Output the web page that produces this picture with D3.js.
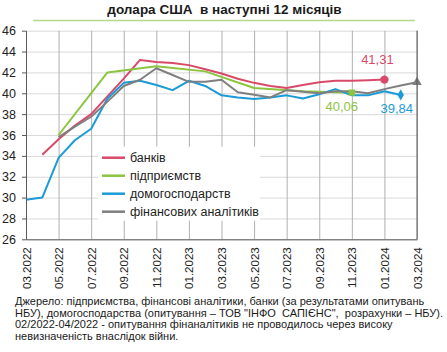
<!DOCTYPE html>
<html>
<head>
<meta charset="utf-8">
<script src="https://cdn.jsdelivr.net/npm/d3@7"></script>
<style>
  body { margin: 0; background: #fff; }
  svg { display: block; font-family: "Liberation Sans", Arial, sans-serif; }
  svg text { white-space: pre; }
</style>
</head>
<body>
<div id="chart"></div>
<script>
// months on the x axis, one per point
const months = ["03.2022","04.2022","05.2022","06.2022","07.2022","08.2022","09.2022","10.2022","11.2022","12.2022",
  "01.2023","02.2023","03.2023","04.2023","05.2023","06.2023","07.2023","08.2023","09.2023","10.2023","11.2023","12.2023",
  "01.2024","02.2024","03.2024"];

// expectations of the exchange rate, by group (null = no survey)
const banks = [null, 34.1, 35.6, 36.9, 38.0, 39.7, 41.4, 43.2, 43.0, 42.9, 42.7, 42.3, 41.9, 41.4, 41.0, 40.7, 40.5, 40.8, 41.05, 41.2, 41.2, 41.25, 41.31, null, null];
const enterprises = [null, null, 36.0, null, null, 42.0, null, null, 42.6, null, null, 42.1, null, null, 40.5, null, null, 40.2, null, null, 40.06, null, null, null, null];
const households = [29.8, 30.0, 33.8, 35.5, 36.6, 39.5, 41.0, 41.2, 40.8, 40.3, 41.2, 40.7, 39.8, 39.6, 39.45, 39.6, 39.8, 39.5, 39.9, 40.4, 39.8, 39.8, 40.2, 39.84, null];
const analysts = [null, null, 35.8, 36.8, 37.75, 39.2, 40.7, 41.3, 42.4, 41.75, 41.1, 41.1, 41.3, 40.1, 39.85, 39.6, 40.3, 40.15, 40.0, 40.2, 40.2, 40.0, 40.4, 40.75, 41.05];

const yTicks = [26, 28, 30, 32, 34, 36, 38, 40, 42, 44, 46];
const xTickLabels = ["03.2022","05.2022","07.2022","09.2022","11.2022","01.2023","03.2023","05.2023","07.2023","09.2023","11.2023","01.2024","03.2024"];

const series = [
  {name: "банків", values: banks, color: "#d94a6a", marker: "circle", label: "41,31"},
  {name: "підприємств", values: enterprises, color: "#8cc440", marker: "square", label: "40,06"},
  {name: "домогосподарств", values: households, color: "#1a9bd7", marker: "diamond", label: "39,84"},
  {name: "фінансових аналітиків", values: analysts, color: "#7f7f7f", marker: "triangle", label: null}
];

const W = 447, H = 352;
const margin = {top: 30.7, right: 30, bottom: 112.7, left: 26};
const width = W - margin.left - margin.right;
const height = H - margin.top - margin.bottom;

const svg = d3.select("#chart").append("svg")
  .attr("width", W).attr("height", H)
  .attr("viewBox", [0, 0, W, H]);

// title and the green rule beneath it
svg.append("text")
  .attr("x", 224.5).attr("y", 14)
  .attr("text-anchor", "middle")
  .attr("font-size", 13.5).attr("font-weight", "bold").attr("fill", "#1a1a1a")
  .text("долара США  в наступні 12 місяців");

svg.append("line")
  .attr("x1", 33).attr("x2", 415).attr("y1", 20.5).attr("y2", 20.5)
  .attr("stroke", "#b4d88c").attr("stroke-width", 1.5);

const chart = svg.append("g")
  .attr("transform", `translate(${margin.left}, ${margin.top})`);

const xScale = d3.scaleLinear()
  .domain([0, months.length - 1])
  .range([0, width]);

const yScale = d3.scaleLinear()
  .domain([26, 46])
  .range([height, 0]);

// horizontal grid
chart.append("g")
  .call(d3.axisRight(yScale).tickValues(yTicks).tickSize(width).tickFormat(""))
  .call(g => g.select(".domain").remove())
  .call(g => g.selectAll("line").attr("stroke", "#d9d9d9"));

// vertical grid at every second month
const xTickIdx = xTickLabels.map(m => months.indexOf(m));
chart.append("g")
  .attr("transform", `translate(0, ${height})`)
  .call(d3.axisBottom(xScale).tickValues(xTickIdx).tickSize(-height).tickFormat(""))
  .call(g => g.select(".domain").remove())
  .call(g => g.selectAll("line").attr("stroke", "#b0b0b0"));

// legend box background (hides grid behind it)
const legend = chart.append("g").attr("transform", "translate(72, 116)");
legend.append("rect")
  .attr("x", 0).attr("y", 0).attr("width", 162).attr("height", 74)
  .attr("fill", "#fff");

// lines
const line = d3.line()
  .x(d => xScale(d.i))
  .y(d => yScale(d.v));

series.forEach(s => {
  const pts = s.values.map((v, i) => ({i, v})).filter(d => d.v != null);
  s.pts = pts;
  chart.append("path")
    .datum(pts)
    .attr("d", line)
    .attr("fill", "none")
    .attr("stroke", s.color)
    .attr("stroke-width", 2)
    .attr("stroke-linejoin", "round");
});

// end markers and value labels
const symbols = {circle: d3.symbolCircle, square: d3.symbolSquare, diamond: d3.symbolDiamond, triangle: d3.symbolTriangle};
const symSize = {circle: 55, square: 40, diamond: 36, triangle: 40};
series.forEach(s => {
  const last = s.pts[s.pts.length - 1];
  chart.append("path")
    .attr("d", d3.symbol(symbols[s.marker], symSize[s.marker]))
    .attr("transform", `translate(${xScale(last.i)}, ${yScale(last.v)})`)
    .attr("fill", s.color);
});

const labelPos = [
  {s: 0, dx: -7, dy: -16},
  {s: 1, dx: -10, dy: 18},
  {s: 2, dx: -4, dy: 18}
];
labelPos.forEach(p => {
  const s = series[p.s];
  const last = s.pts[s.pts.length - 1];
  chart.append("text")
    .attr("x", xScale(last.i) + p.dx)
    .attr("y", yScale(last.v) + p.dy)
    .attr("text-anchor", "middle")
    .attr("font-size", 13)
    .attr("fill", s.color)
    .text(s.label);
});

// axes
chart.append("g")
  .call(d3.axisLeft(yScale).tickValues(yTicks).tickSize(4).tickPadding(6).tickSizeOuter(0))
  .call(g => g.select(".domain").attr("stroke", "#595959"))
  .call(g => g.selectAll("line").attr("stroke", "#595959"))
  .call(g => g.selectAll("text").attr("font-size", 12.5).attr("fill", "#222").attr("font-family", "Liberation Sans, Arial, sans-serif"));

chart.append("g")
  .attr("transform", `translate(0, ${height})`)
  .call(d3.axisBottom(xScale).tickValues(xTickIdx).tickSize(0).tickSizeOuter(0).tickFormat((d, i) => xTickLabels[i]))
  .call(g => g.select(".domain").attr("stroke", "#595959"))
  .call(g => g.selectAll("text")
    .attr("font-size", 11.5).attr("fill", "#222").attr("font-family", "Liberation Sans, Arial, sans-serif")
    .attr("transform", "rotate(-90)")
    .attr("text-anchor", "end")
    .attr("x", -8).attr("y", 0).attr("dy", "0.35em"));

// right border
chart.append("line")
  .attr("x1", width).attr("x2", width).attr("y1", 0).attr("y2", height)
  .attr("stroke", "#595959");

// legend entries
series.forEach((s, i) => {
  const y = 11 + i * 18;
  legend.append("line")
    .attr("x1", 4).attr("x2", 27).attr("y1", y).attr("y2", y)
    .attr("stroke", s.color).attr("stroke-width", 2.5);
  legend.append("text")
    .attr("x", 32).attr("y", y).attr("dy", "0.35em")
    .attr("font-size", 12.5).attr("fill", "#222")
    .text(s.name);
});

// source note
const note = [
  "Джерело: підприємства, фінансові аналітики, банки (за результатами опитувань",
  "НБУ), домогосподарства (опитування – ТОВ \"ІНФО  САПІЄНС\",  розрахунки – НБУ).",
  "02/2022-04/2022 - опитування фінаналітиків не проводилось через високу",
  "невизначеність внаслідок війни."
];
svg.append("g").selectAll("text")
  .data(note)
  .join("text")
  .attr("x", 15)
  .attr("y", (d, i) => 305 + i * 11.5)
  .attr("font-size", 11)
  .attr("fill", "#1a1a1a")
  .text(d => d);
</script>
</body>
</html>
